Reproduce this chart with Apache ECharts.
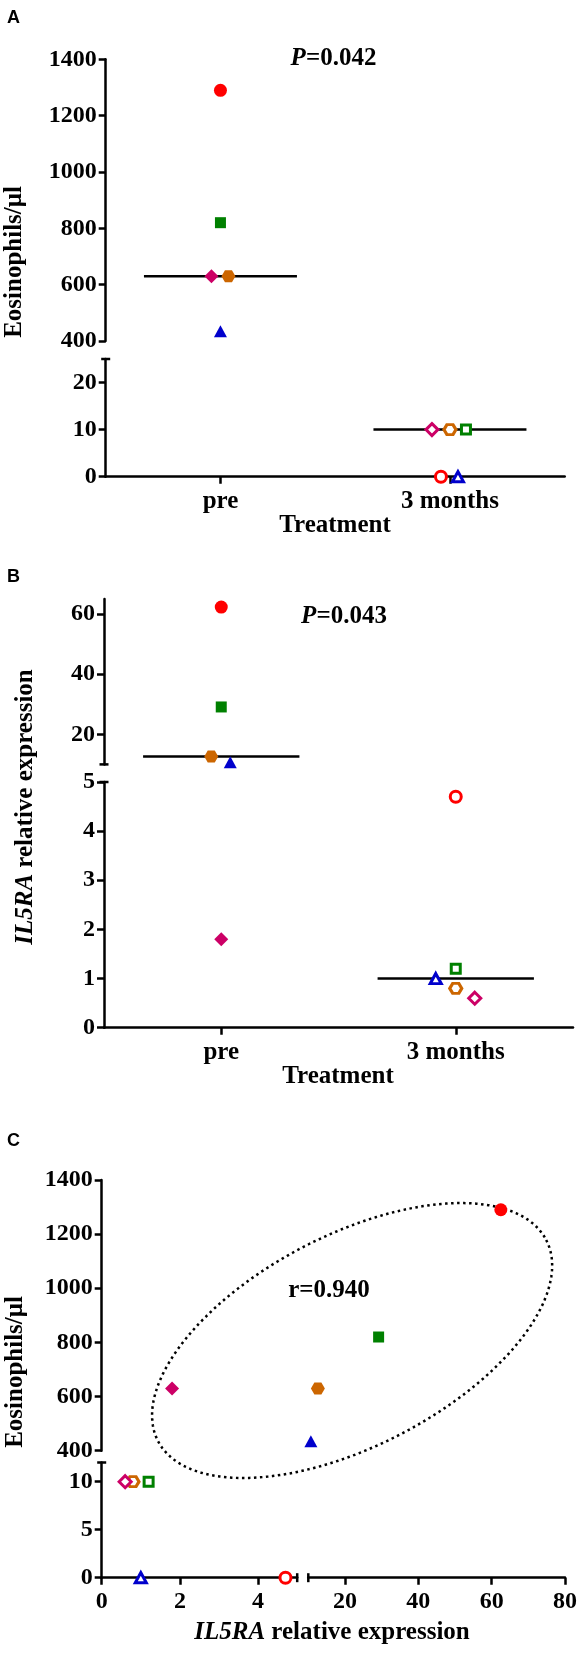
<!DOCTYPE html>
<html><head><meta charset="utf-8">
<script src="https://cdn.jsdelivr.net/npm/echarts@6/dist/echarts.min.js"></script>
<style>html,body{margin:0;padding:0;background:#fff}#c{width:580px;height:1653px}</style>
</head><body><div id="c"></div>
<script>
// ---------------- DATA ----------------
const groups = ['pre', '3 months'];
// subjects: 0 red circle, 1 green square, 2 orange hexagon, 3 pink diamond, 4 blue triangle
const eosPre = [1290, 820, 630, 630, 435];
const eos3m = [0, 10, 10, 10, 0];
const il5raPre = [62.3, 29.1, 12.6, 1.8, 10.7];
const il5ra3m = [4.7, 1.2, 0.8, 0.6, 1.0];
const eosMedian = [630, 10];
const il5raMedian = [12.6, 1.0];
const statA = '0.042';
const statB = '0.043';
const statC = 'r=0.940';
// tick labels
const ticksEosUpper = [400, 600, 800, 1000, 1200, 1400];
const ticksEosLowerA = [0, 10, 20];
const ticksIlUpperB = [20, 40, 60];
const ticksIlLowerB = [0, 1, 2, 3, 4, 5];
const ticksEosLowerC = [0, 5, 10];
const ticksIlLeftC = [0, 2, 4];
const ticksIlRightC = [20, 40, 60, 80];

// ---------------- STYLE ----------------
const colors = ['#ff0000', '#008000', '#cc6600', '#cc0066', '#0000cc'];
const HEX = 'path://M-1,0 L-0.5,-0.866 L0.5,-0.866 L1,0 L0.5,0.866 L-0.5,0.866 Z';
const symbols = ['circle', 'rect', HEX, 'diamond', 'triangle'];
const sizes = [[13, 13], [11, 11], [14, 12], [14, 14], [13, 12]];
const jitterA = [[0, 0, 8, -9, 0], [-9, 16, 0, -18, 8]];
const jitterB = [[0, 0, -10, 0, 9], [0, 0, 0, 19, -20]];
const SERIF = '"Liberation Serif","Times New Roman",serif';
const SANS = '"Liberation Sans",Arial,sans-serif';

function item(x, y, s, open, off) {
  const sz = open ? [sizes[s][0] - 2, sizes[s][1] - 2] : sizes[s];
  return {
    value: [x, y], symbol: symbols[s], symbolSize: sz,
    symbolOffset: [off || 0, 0],
    itemStyle: open ? { color: '#fff', borderColor: colors[s], borderWidth: 3, opacity: 1 }
                    : { color: colors[s], borderWidth: 0, opacity: 1 }
  };
}

// grids: left, top, width, height
const G = [
  [105.7, 59.3, 459, 281.7],   // 0 A upper
  [105.7, 359, 459, 117.7],    // 1 A lower
  [104, 599, 469, 165.4],      // 2 B upper
  [104, 782, 469, 245.7],      // 3 B lower
  [101.7, 1180, 195.5, 270.7], // 4 C upper-left
  [308.3, 1180, 257.7, 270.7], // 5 C upper-right
  [101.7, 1462.5, 195.5, 115.2], // 6 C lower-left
  [308.3, 1462.5, 257.7, 115.2]  // 7 C lower-right
];
const grid = G.map(g => ({ left: g[0], top: g[1], width: g[2], height: g[3], containLabel: false }));

const axisLine = { show: true, lineStyle: { color: '#000', width: 2.5 } };
const axisTick = (vals) => ({ show: true, length: 7, inside: false, lineStyle: { color: '#000', width: 2.5 }, customValues: vals });
const axisLabel = (vals) => ({ show: true, color: '#000', fontFamily: SERIF, fontWeight: 'bold', fontSize: 24, margin: 9,
  customValues: vals, formatter: v => String(v) });

function catX(gi, show) {
  return { type: 'category', gridIndex: gi, data: groups, boundaryGap: true, show: show,
    axisLine: axisLine, axisTick: { show: true, alignWithLabel: true, length: 7, lineStyle: { color: '#000', width: 2.5 } },
    axisLabel: { color: '#000', fontFamily: SERIF, fontWeight: 'bold', fontSize: 25, margin: 12 }, splitLine: { show: false } };
}
function valAxis(gi, min, max, ticks, show) {
  return { type: 'value', gridIndex: gi, min: min, max: max, show: show,
    axisLine: axisLine, axisTick: axisTick(ticks), axisLabel: axisLabel(ticks), splitLine: { show: false } };
}

const xAxis = [
  catX(0, false), catX(1, true), catX(2, false), catX(3, true),
  valAxis(4, 0, 5, ticksIlLeftC, false), valAxis(5, 10, 80, ticksIlRightC, false),
  valAxis(6, 0, 5, ticksIlLeftC, true), valAxis(7, 10, 80, ticksIlRightC, true)
];
xAxis.slice(4).forEach(a => { a.axisLabel.margin = 12; });
const yAxis = [
  valAxis(0, 400, 1400, ticksEosUpper, true),
  valAxis(1, 0, 25, ticksEosLowerA, true),
  valAxis(2, 10, 65, ticksIlUpperB, true),
  valAxis(3, 0, 5, ticksIlLowerB, true),
  valAxis(4, 400, 1400, ticksEosUpper, true),
  valAxis(5, 400, 1400, ticksEosUpper, false),
  valAxis(6, 0, 12, ticksEosLowerC, true),
  valAxis(7, 0, 12, ticksEosLowerC, false)
];

function medianSeries(ax, gi, v) {
  return { type: 'custom', xAxisIndex: ax, yAxisIndex: ax, z: 1, silent: true,
    data: [[gi, v]],
    renderItem: function (params, api) {
      const p = api.coord([api.value(0), api.value(1)]);
      const half = api.size([1, 0])[0] / 3;
      return { type: 'line', shape: { x1: p[0] - half, y1: p[1], x2: p[0] + half, y2: p[1] },
        style: { stroke: '#000', lineWidth: 2.5 } };
    } };
}
function scatter(ax, data) {
  return { type: 'scatter', xAxisIndex: ax, yAxisIndex: ax, z: 3, silent: true, data: data, itemStyle: { opacity: 1 } };
}

const series = [];
// Panel A
series.push(medianSeries(0, 0, eosMedian[0]));
series.push(medianSeries(1, 1, eosMedian[1]));
series.push(scatter(0, eosPre.map((v, s) => item(0, v, s, false, jitterA[0][s]))));
series.push(scatter(1, eos3m.map((v, s) => item(1, v, s, true, jitterA[1][s]))));
// Panel B
series.push(medianSeries(2, 0, il5raMedian[0]));
series.push(medianSeries(3, 1, il5raMedian[1]));
const bPreUp = [], bPreLo = [];
il5raPre.forEach((v, s) => { (v > 5 ? bPreUp : bPreLo).push(item(0, v, s, false, jitterB[0][s])); });
series.push(scatter(2, bPreUp));
series.push(scatter(3, bPreLo));
series.push(scatter(3, il5ra3m.map((v, s) => item(1, v, s, true, jitterB[1][s]))));
// Panel C: route each point to its axis segment
const cData = [[], [], [], []];
function routeC(x, y, s, open) {
  const gi = (y > 12 ? 0 : 2) + (x > 5 ? 1 : 0);
  cData[gi].push(item(x, y, s, open, 0));
}
il5raPre.forEach((x, s) => routeC(x, eosPre[s], s, false));
il5ra3m.forEach((x, s) => routeC(x, eos3m[s], s, true));
cData.forEach((d, k) => series.push(scatter(4 + k, d)));

const txt = (t, x, y, size, extra) => ({ type: 'text', x: x, y: y, silent: true, z: 10,
  style: Object.assign({ text: t, fill: '#000', font: 'bold ' + size + 'px ' + SERIF, align: 'center', verticalAlign: 'middle' }, extra || {}) });
const italicRich = { i: { font: 'italic bold 25px ' + SERIF, fill: '#000' } };

const graphics = [
  txt('A', 7, 17.7, 18, { font: 'bold 18px ' + SANS, align: 'left' }),
  txt('B', 7, 576.7, 18, { font: 'bold 18px ' + SANS, align: 'left' }),
  txt('C', 7, 1140.7, 18, { font: 'bold 18px ' + SANS, align: 'left' }),
  Object.assign(txt('Eosinophils/μl', 15, 262, 25), { rotation: Math.PI / 2 }),
  Object.assign(txt('Eosinophils/μl', 15.6, 1372, 25), { rotation: Math.PI / 2 }),
  Object.assign(txt('{i|IL5RA} relative expression', 26, 807, 25, { rich: italicRich }), { rotation: Math.PI / 2 }),
  txt('Treatment', 335, 526, 25),
  txt('Treatment', 338, 1077, 25),
  txt('{i|IL5RA} relative expression', 332, 1633, 25, { rich: italicRich }),
  txt('{i|P}=' + statA, 333.5, 59, 25, { rich: italicRich }),
  txt('{i|P}=' + statB, 344, 616.5, 25, { rich: italicRich }),
  txt(statC, 329, 1290.5, 25)
];

const chart = echarts.init(document.getElementById('c'), null, { renderer: 'canvas' });
chart.setOption({ animation: false, backgroundColor: '#fff', grid: grid, xAxis: xAxis, yAxis: yAxis, series: series, graphic: graphics });

// axis-break caps and correlation ellipse, positioned through the chart's own scales
const capStyle = { stroke: '#000', lineWidth: 2.5 };
const extra = [];
function hCap(yAxisIndex, value, x) {
  const y = chart.convertToPixel({ yAxisIndex: yAxisIndex }, value);
  extra.push({ type: 'line', silent: true, z: 5, shape: { x1: x - 4.5, y1: y, x2: x + 4.5, y2: y }, style: capStyle });
}
function vCap(xAxisIndex, value, y) {
  const x = chart.convertToPixel({ xAxisIndex: xAxisIndex }, value);
  extra.push({ type: 'line', silent: true, z: 5, shape: { x1: x, y1: y - 4.5, x2: x, y2: y + 4.5 }, style: capStyle });
}
hCap(1, 25, G[1][0]);
hCap(2, 10, G[2][0]);
hCap(3, 5, G[3][0]);
hCap(6, 12, G[6][0]);
vCap(6, 5, G[6][1] + G[6][3]);
vCap(7, 10, G[7][1] + G[7][3]);
// ellipse (annotation) centred on a data position in the upper-right segment of panel C
const ellCenter = chart.convertToPixel({ gridIndex: 5 }, [21.9, 807]);
const RX = 218.6, RY = 105.5, TH = 27.4 * Math.PI / 180;
const pts = [];
for (let k = 0; k < 240; k++) {
  const t = 2 * Math.PI * k / 240;
  const a = RX * Math.cos(t), b = RY * Math.sin(t);
  pts.push([ellCenter[0] + a * Math.cos(TH) + b * Math.sin(TH), ellCenter[1] - a * Math.sin(TH) + b * Math.cos(TH)]);
}
extra.push({ type: 'polygon', silent: true, z: 2, shape: { points: pts },
  style: { fill: 'none', stroke: '#000', lineWidth: 2.5, lineDash: [2.5, 3.5] } });
chart.setOption({ graphic: graphics.concat(extra) });
</script></body></html>
